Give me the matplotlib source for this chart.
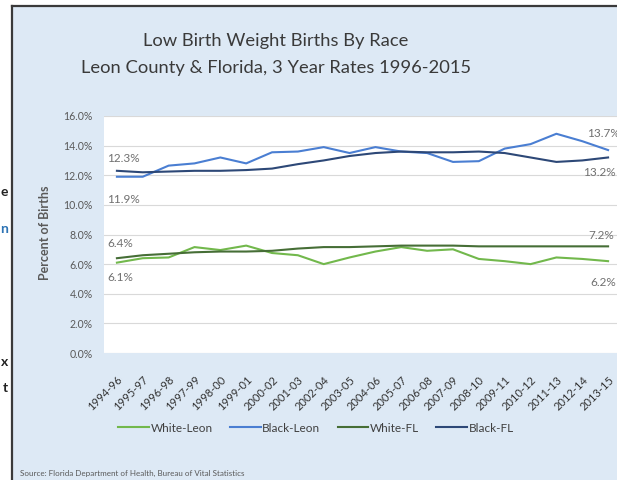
import matplotlib
matplotlib.use("Agg")
import matplotlib.pyplot as plt
from matplotlib.lines import Line2D
from matplotlib.patches import Rectangle

plt.rcParams["font.family"] = ["Lato", "DejaVu Sans"]

# ---------------------------------------------------------------- данные
periods = ["1994-96", "1995-97", "1996-98", "1997-99", "1998-00", "1999-01",
           "2000-02", "2001-03", "2002-04", "2003-05", "2004-06", "2005-07",
           "2006-08", "2007-09", "2008-10", "2009-11", "2010-12", "2011-13",
           "2012-14", "2013-15"]
white_leon = [6.1, 6.4, 6.45, 7.15, 6.95, 7.25, 6.75, 6.6, 6.0, 6.45,
              6.85, 7.15, 6.9, 7.0, 6.35, 6.2, 6.0, 6.45, 6.35, 6.2]
black_leon = [11.9, 11.9, 12.65, 12.8, 13.2, 12.8, 13.55, 13.6, 13.9, 13.5,
              13.9, 13.6, 13.5, 12.9, 12.95, 13.8, 14.1, 14.8, 14.3, 13.7]
white_fl = [6.4, 6.6, 6.7, 6.8, 6.85, 6.85, 6.9, 7.05, 7.15, 7.15,
            7.2, 7.25, 7.25, 7.25, 7.2, 7.2, 7.2, 7.2, 7.2, 7.2]
black_fl = [12.3, 12.2, 12.25, 12.3, 12.3, 12.35, 12.45, 12.75, 13.0, 13.3,
            13.5, 13.6, 13.55, 13.55, 13.6, 13.5, 13.2, 12.9, 13.0, 13.2]
series_names = ["White-Leon", "Black-Leon", "White-FL", "Black-FL"]
yticks = [0, 2, 4, 6, 8, 10, 12, 14, 16]

series = [white_leon, black_leon, white_fl, black_fl]
colors = ["#72b84c", "#4a7ed2", "#466e36", "#2d4877"]

# подписи первой и последней точки: (серия, индекс, сдвиг x, сдвиг y) в пикселях
end_labels = [(3, 0, -10, 12), (1, 0, -10, -23),
              (1, 19, -21, 17), (3, 19, -25, -15),
              (2, 0, -10, 15), (0, 0, -10, -15),
              (2, 19, -20, 11), (0, 19, -18, -21)]

W, H = 617, 480
fig = plt.figure(figsize=(W / 100, H / 100), dpi=100)
fig.patch.set_facecolor("white")


def fx(x):
    return x / W


def fy(y):
    return 1 - y / H


# фон области диаграммы и рамка
fig.patches.append(Rectangle((fx(12), 0), 1, fy(6), transform=fig.transFigure,
                             facecolor="#dde9f5", edgecolor="none", zorder=-10))
fig.add_artist(Line2D([fx(12), fx(12)], [0, fy(6)], color="#3a3a3a", lw=1.6))
fig.add_artist(Line2D([fx(12), 1], [fy(6), fy(6)], color="#3a3a3a", lw=1.6))

# обрывки соседнего текста слева
for ch, yy, col in [("e", 192, "#222222"), ("n", 229, "#2e74b5"),
                    ("x", 362, "#222222"), ("t", 388, "#222222")]:
    fig.text(fx(8), fy(yy), ch, ha="right", va="center", fontsize=10,
             fontweight="bold", color=col)

ax = fig.add_axes([fx(104), fy(353), (621 - 104) / W, (353 - 116) / H])
ax.set_zorder(1)
ax.set_facecolor("white")
x = list(range(len(periods)))
for vals, name, col in zip(series, series_names, colors):
    ax.plot(x, vals, color=col, lw=1.5, label=name, zorder=3)

ax.set_xlim(-0.5, len(periods) - 0.5)
ax.set_ylim(0, 16)
ax.set_yticks(yticks, [f"{v:.1f}%" for v in yticks])
ax.set_xticks(x, periods)
ax.grid(axis="y", color="#d9d9d9", lw=0.8)
ax.set_axisbelow(True)
for s in ax.spines.values():
    s.set_visible(False)
ax.tick_params(length=0)
ax.tick_params(axis="y", labelsize=7.6, labelcolor="#595959", pad=8)
ax.tick_params(axis="x", labelsize=8, labelcolor="#333333", pad=15)
for lab in ax.get_xticklabels():
    lab.set_rotation(45)
    lab.set_ha("right")
    lab.set_va("top")
    lab.set_rotation_mode("anchor")

for si, idx, dx, dy in end_labels:
    v = series[si][idx]
    ax.annotate(f"{v:.1f}%", (idx, v), xytext=(dx * 0.72, dy * 0.72),
                textcoords="offset points", ha="left", va="center",
                fontsize=8.5, color="#707070", annotation_clip=False)

fig.text(fx(45), fy(233), "Percent of Births", rotation=90, ha="center",
         va="center", fontsize=9, fontweight="bold", color="#595959")

fig.text(fx(276), fy(41), "Low Birth Weight Births By Race", ha="center",
         va="center", fontsize=13.2, color="#3a3a3a")
fig.text(fx(276), fy(68), "Leon County & Florida, 3 Year Rates 1996-2015",
         ha="center", va="center", fontsize=13.2, color="#3a3a3a")

fig.legend(loc="center", bbox_to_anchor=(fx(316), fy(428)), ncol=4,
           frameon=False, fontsize=8.5, labelcolor="#404040", handlelength=2.6,
           handletextpad=0.15, columnspacing=1.45)

fig.text(fx(20), fy(473), "Source: Florida Department of Health, Bureau of Vital Statistics",
         ha="left", va="center", fontsize=5.8, color="#595959")

fig.savefig("out.png", dpi=100)
